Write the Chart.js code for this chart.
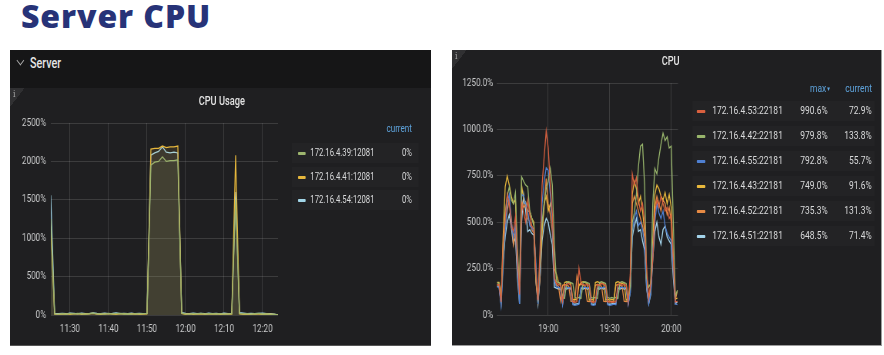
<!DOCTYPE html>
<html><head><meta charset="utf-8">
<script src="https://cdn.jsdelivr.net/npm/chart.js@4.4.0/dist/chart.umd.min.js"></script>
<style>
html,body{margin:0;padding:0;background:#fff;width:884px;height:355px;overflow:hidden;font-family:Roboto,"Noto Sans",sans-serif;}
#title{position:absolute;left:21px;top:0;font-family:"Open Sans",sans-serif;font-weight:800;font-size:32px;line-height:32px;color:#273378;letter-spacing:0.9px;white-space:nowrap;}
.panel{position:absolute;overflow:hidden;background:#1f1f21;}
.sq{position:absolute;left:0;top:0;height:100%;transform:scaleX(0.77);transform-origin:0 0;}
.abs{position:absolute;white-space:nowrap;}
.hdr{position:absolute;left:0;top:0;width:100%;height:38px;background:#161617;}
.ptitle{position:absolute;transform:translateX(-50%);color:#e2e2e2;font-size:12px;font-weight:500;line-height:14px;}
.info{position:absolute;width:20px;height:18px;background:linear-gradient(135deg,#303032 50%,rgba(0,0,0,0) 50%);color:#a8a8a8;font-family:"DejaVu Serif",serif;font-size:10px;line-height:12px;padding-left:4px;box-sizing:border-box;}
.row{position:absolute;height:20px;background:#232325;}
.sw{position:absolute;height:3px;top:9px;border-radius:1px;}
.lt{position:absolute;color:#d8d9da;line-height:20px;top:0;}
.hd{position:absolute;color:#5ea3dc;font-size:10.5px;line-height:14px;}
canvas{position:absolute;}
</style></head>
<body>
<div id="title">Server CPU</div>

<div class="panel" style="left:10px;top:50px;width:421px;height:295px;border-bottom:1px solid #555;">
  <div class="sq" id="sqL" style="width:547px">
    <div class="hdr"></div>
    <div class="abs" style="left:10px;top:7px;width:6px;height:6px;border-right:1.6px solid #b0b0b0;border-bottom:1.6px solid #b0b0b0;transform:rotate(45deg)"></div>
    <div class="abs" style="left:26px;top:4px;color:#e6e6e6;font-size:14px;font-weight:500;line-height:18px;">Server</div>
    <div class="info" style="left:0;top:38px;">i</div>
    <div class="ptitle" style="left:275px;top:44px;">CPU Usage</div>
    <canvas id="c1" width="364" height="257" style="left:0;top:38px;width:364px;height:257px"></canvas>
  </div>
</div>

<div class="panel" style="left:452px;top:50px;width:429px;height:295px;border-right:1px solid #9c9c9c;border-bottom:1px solid #9c9c9c;">
  <div class="sq" id="sqR" style="width:557px">
    <div class="info" style="left:0;top:0;">i</div>
    <div class="ptitle" style="left:284px;top:4px;">CPU</div>
    <canvas id="c2" width="309" height="295" style="left:0;top:0;width:309px;height:295px"></canvas>
  </div>
</div>

<script>
// ---------- Left panel: CPU Usage (minutes from 11:25) ----------
const leftNames = ['172.16.4.39:12081','172.16.4.41:12081','172.16.4.54:12081'];
const leftColors = ['#9db56e','#e6b73c','#a2d6e8'];
const leftFills = ['rgba(120,140,90,0.10)','rgba(220,175,60,0.11)','rgba(150,170,170,0.09)'];
const leftTickMinutes = [5,15,25,35,45,55];
const leftTickLabels = ['11:30','11:40','11:50','12:00','12:10','12:20'];
const leftMinutes = [0,1,2,3,4,5,6,7,8,9,10,11,12,13,14,15,16,17,18,19,20,21,22,23,24,25,26,27,28,29,30,31,32,33,34,35,36,37,38,39,40,41,42,43,44,45,46,47,48,49,50,51,52,53,54,55,56,57,58,59];
const left39 = [1250,15,12,18,10,20,14,22,16,12,19,25,14,17,11,20,15,18,22,13,16,12,19,14,17,20,1950,1990,2000,2060,2000,2010,2010,2020,25,15,12,18,14,20,11,16,19,13,17,12,15,18,1500,20,14,18,12,16,20,13,15,11,9,0];
const left41 = [1150,10,8,12,15,9,14,18,10,13,16,20,11,9,14,17,12,10,15,19,11,13,16,10,12,15,2160,2170,2170,2200,2180,2190,2190,2200,20,10,14,9,12,16,10,13,11,15,9,12,14,12,2080,15,10,12,9,14,11,8,13,10,7,0];
const left54 = [1560,20,18,22,16,25,20,15,24,19,17,28,21,16,23,18,20,26,17,22,19,24,16,21,18,22,2080,2110,2130,2190,2120,2110,2120,2110,30,20,17,24,19,22,16,25,18,21,15,23,19,20,1600,30,25,18,22,16,20,24,17,19,12,0];
const leftSeries = [left39,left41,left54];

// ---------- Right panel: CPU (minutes from 18:35) ----------
const rightNames = ['172.16.4.53:22181','172.16.4.42:22181','172.16.4.55:22181','172.16.4.43:22181','172.16.4.52:22181','172.16.4.51:22181'];
const rightColors = ['#d9603f','#98b56c','#4f80d2','#e8b83c','#e68a44','#a3d3ea'];
const rightTickMinutes = [25,55,85];
const rightTickLabels = ['19:00','19:30','20:00'];
const rightMinutes = [0,1,2,3,4,5,6,7,8,9,10,11,12,13,14,15,16,17,18,19,20,21,22,23,24,25,26,27,28,29,30,31,32,33,34,35,36,37,38,39,40,41,42,43,44,45,46,47,48,49,50,51,52,53,54,55,56,57,58,59,60,61,62,63,64,65,66,67,68,69,70,71,72,73,74,75,76,77,78,79,80,81,82,83,84,85,86,87,88];
const r53 = [160,165,70,380, 520,650,600,480,450,530, 300,110, 600,550,500,620,540,480,460, 230,80, 350,700,850,990.6,900,700,550,200,
 170,165,160,75,160,165,170,160,70,68,72,250,170,165,160,165,160,70,68,72,165,160,170,165,160,70,72,68,70,72,165,170,160,165,160,70,
 220, 760,700,740,620,560,600,500, 250, 90,170, 300,550,620,580,640,600,560,580,520,540, 300,70,72.9];
const r42 = [175,170,90,300, 550,640,690,620,600,660, 350,150, 745,720,700,690,560,520,480, 200,95, 300,500,600,680,720,790,700,380,
 180,175,170,95,90,175,180,175,170,95,90,95,90,175,180,175,170,95,90,95,90,175,180,175,170,95,90,95,90,95,90,175,180,175,170,95,
 150, 500,550,650,800,910,920,700, 200, 150,170, 600,790,760,850,920,979.8,940,960,900,910, 500,100,133.8];
const r55 = [150,150,50,250, 450,600,650,500,420,480, 250,60, 650,640,600,560,480,470,450, 280,60, 250,600,720,792.8,780,650,500,180,
 150,150,145,55,150,150,145,150,55,52,55,58,150,148,150,145,150,55,52,55,150,150,145,150,148,55,52,55,58,55,150,148,150,145,150,55,
 120, 450,520,560,480,500,460,380, 150, 60,120, 350,500,600,550,520,560,480,440,420,400, 250,60,55.7];
const r43 = [175,175,80,420, 690,749,700,640,600,620, 280,130, 700,620,610,560,560,520,500, 220,85, 250,450,600,640,560,600,520,250,
 220,175,170,80,175,180,175,170,80,85,80,160,175,180,175,170,80,85,80,175,180,175,170,175,80,85,80,85,80,175,180,175,170,175,80,85,
 150, 650,720,680,600,640,560,450, 180, 80,160, 400,650,700,680,640,620,660,600,650,580, 300,85,91.6];
const r52 = [165,160,75,350, 480,560,620,520,380,450, 250,120, 620,580,600,520,500,460,440, 180,75, 200,450,580,735.3,600,540,450,200,
 160,155,75,160,165,160,155,75,72,75,210,160,165,160,155,75,72,75,72,160,165,160,155,75,72,75,72,75,72,160,165,160,155,75,72,75,
 150, 600,640,600,560,520,480,420, 160, 75,150, 350,580,640,600,560,620,600,540,580,500, 250,80,131.3];
const r51 = [155,155,60,300, 420,500,540,470,380,420, 200,60, 500,648.5,560,450,460,440,430, 180,60, 200,400,480,520,500,430,380,150,
 145,140,140,60,145,140,145,140,60,58,60,62,145,140,145,140,145,60,58,60,145,140,145,140,145,60,58,60,62,60,145,140,145,140,145,60,
 120, 420,480,520,450,460,400,350, 140, 60,110, 300,450,500,420,380,460,480,420,400,380, 200,60,71.4];
const rightSeries = [r53,r42,r55,r43,r52,r51];

// ---------- shared styling ----------
const gridColor = 'rgba(255,255,255,0.13)';
const tickColor = '#c9cacb';
const tickFont = {family:'Roboto', size:10.5};

function pts(times, vals){ return vals.map((v,i)=>({x:times[i], y:v})); }

function buildOptions(o){
  return {
    animation:false, responsive:false, maintainAspectRatio:false,
    layout:{padding:{top:o.padTop, right:o.padRight, left:0, bottom:0}},
    plugins:{legend:{display:false}, tooltip:{enabled:false}, title:{display:false}},
    elements:{point:{radius:0}, line:{tension:0}},
    scales:{
      x:{type:'linear', min:o.xMin, max:o.xMax,
         afterBuildTicks:(sc)=>{ sc.ticks = o.xTicks.map(v=>({value:v})); },
         afterFit:(sc)=>{ sc.height = 30; },
         ticks:{autoSkip:false, maxRotation:0, padding:8, color:tickColor, font:tickFont,
                callback:(v,i)=>o.xLabels[i]},
         grid:{color:gridColor, drawTicks:false}, border:{display:false}},
      y:{min:0, max:o.yMax,
         afterFit:(sc)=>{ sc.width = o.yWidth; },
         ticks:{stepSize:o.yStep, padding:o.yPad, color:tickColor, font:tickFont, callback:o.yFmt},
         grid:{color:gridColor, drawTicks:false}, border:{display:false}}
    }
  };
}

new Chart(document.getElementById('c1'), {
  type:'line',
  data:{datasets:leftSeries.map((s,i)=>({label:leftNames[i], data:pts(leftMinutes,s),
    borderColor:leftColors[i], backgroundColor:leftFills[i], fill:'origin', borderWidth:1.3, pointRadius:0}))},
  options:buildOptions({padTop:35, padRight:16, xMin:0, xMax:59, xTicks:leftTickMinutes, xLabels:leftTickLabels,
    yMax:2500, yStep:500, yWidth:52.9, yPad:6, yFmt:(v)=>v+'%'})
});

new Chart(document.getElementById('c2'), {
  type:'line',
  data:{datasets:rightSeries.map((s,i)=>({label:rightNames[i], data:pts(rightMinutes,s),
    borderColor:rightColors[i], fill:false, borderWidth:1.3, pointRadius:0}))},
  options:buildOptions({padTop:33, padRight:15.5, xMin:0, xMax:88.3, xTicks:rightTickMinutes, xLabels:rightTickLabels,
    yMax:1250, yStep:250, yWidth:58.4, yPad:5, yFmt:(v)=> v===0 ? '0%' : v.toFixed(1)+'%'})
});

// ---------- HTML legends built from the same arrays ----------
function addText(parent, html, style, cls){
  const d = document.createElement('div'); d.className = cls || 'abs'; d.innerHTML = html;
  Object.assign(d.style, style); parent.appendChild(d); return d;
}
const sqL = document.getElementById('sqL');
addText(sqL, 'current', {right:(547-522)+'px', top:'72px'}, 'hd');
leftNames.forEach((n,i)=>{
  const row = addText(sqL, '', {left:'366px', width:'165px', top:(93 + i*23.5)+'px'}, 'row');
  addText(row, '', {left:'8px', width:'10px', background:leftColors[i]}, 'sw');
  addText(row, n, {left:'24px', fontSize:'10px'}, 'lt');
  const cur = leftSeries[i][leftSeries[i].length-1];
  addText(row, Math.round(cur)+'%', {right:'9px', fontSize:'10px'}, 'lt');
});

const sqR = document.getElementById('sqR');
addText(sqR, 'max<span style="font-size:6px;vertical-align:1px">&#9660;</span>', {right:(557-492)+'px', top:'32px', fontSize:'11px'}, 'hd');
addText(sqR, 'current', {right:(557-545.5)+'px', top:'32px', fontSize:'11px'}, 'hd');
const rowY = [51, 75.5, 100.5, 125.5, 150.5, 176];
rightNames.forEach((n,i)=>{
  const row = addText(sqR, '', {left:'312px', width:'237px', top:rowY[i]+'px'}, 'row');
  addText(row, '', {left:'6px', width:'11px', background:rightColors[i]}, 'sw');
  addText(row, n, {left:'26px', fontSize:'11px'}, 'lt');
  const s = rightSeries[i];
  addText(row, Math.max(...s).toFixed(1)+'%', {right:(237-176)+'px', fontSize:'11px'}, 'lt');
  addText(row, s[s.length-1].toFixed(1)+'%', {right:'4px', fontSize:'11px'}, 'lt');
});
</script>
</body></html>
